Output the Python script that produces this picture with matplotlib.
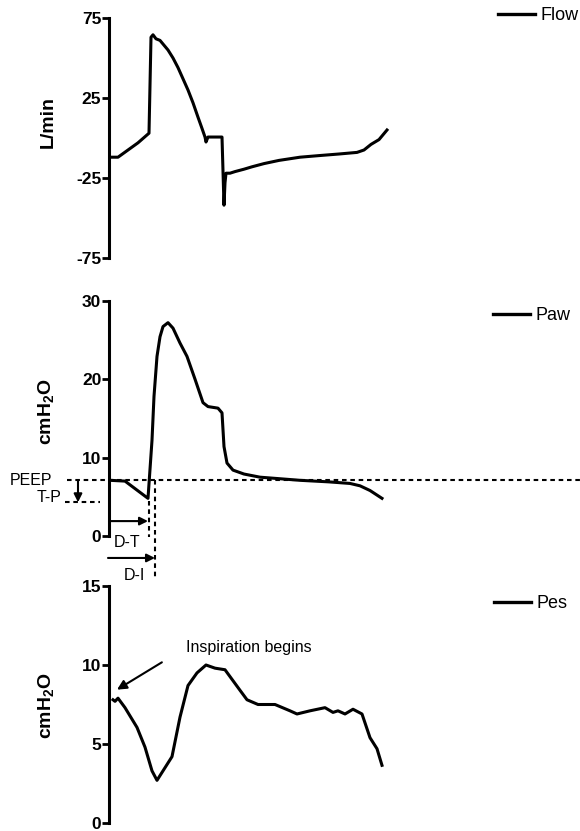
import matplotlib
matplotlib.use("Agg")
import matplotlib.pyplot as plt
from matplotlib.lines import Line2D

plt.rcParams['font.family'] = ['Liberation Sans', 'DejaVu Sans']
plt.rcParams['mathtext.fontset'] = 'custom'
plt.rcParams['mathtext.rm'] = 'Liberation Sans'
plt.rcParams['mathtext.bf'] = 'Liberation Sans:bold'

# ---------------- data (time in s, arbitrary origin) ----------------
flow_t = [0.01, 0.09, 0.19, 0.29, 0.40, 0.42, 0.44, 0.47, 0.51, 0.55, 0.59, 0.64, 0.69,
          0.74, 0.79, 0.84, 0.89, 0.93, 0.96, 0.97, 0.99, 1.05, 1.13, 1.15, 1.16, 1.17,
          1.21, 1.26, 1.35, 1.43, 1.55, 1.70, 1.91, 2.10, 2.30, 2.48, 2.55, 2.62, 2.70, 2.78]
flow_v = [-12, -12, -7.5, -3, 3, 63, 64.5, 62, 61, 58, 55, 50, 44,
          37, 30, 22, 13, 6, 0.6, -2.5, 0.6, 0.6, 0.6, -42, -28, -22,
          -22, -21, -19.5, -18, -16, -14, -12, -11, -10, -9, -7.5, -4, -1, 5]

paw_t = [0.01, 0.16, 0.39, 0.43, 0.45, 0.48, 0.51, 0.54, 0.59, 0.64, 0.71, 0.78, 0.86,
         0.94, 0.99, 1.09, 1.13, 1.15, 1.18, 1.24, 1.35, 1.51, 1.91, 2.20, 2.41, 2.51,
         2.61, 2.73]
paw_v = [7.1, 7.0, 4.8, 12.2, 17.8, 22.9, 25.4, 26.7, 27.2, 26.5, 24.6, 22.9, 20.0,
         17.0, 16.5, 16.3, 15.7, 11.4, 9.3, 8.4, 7.9, 7.5, 7.1, 6.9, 6.7, 6.4,
         5.8, 4.8]

pes_t = [0.04, 0.06, 0.09, 0.16, 0.28, 0.36, 0.43, 0.48, 0.56, 0.63, 0.71, 0.79, 0.88,
         0.97, 1.06, 1.16, 1.31, 1.38, 1.49, 1.66, 1.81, 1.88, 2.01, 2.16, 2.24, 2.29,
         2.36, 2.44, 2.53, 2.61, 2.68, 2.73]
pes_v = [7.8, 7.7, 7.9, 7.3, 6.05, 4.8, 3.3, 2.7, 3.5, 4.2, 6.7, 8.7, 9.5,
         10.0, 9.8, 9.7, 8.4, 7.8, 7.5, 7.5, 7.1, 6.9, 7.1, 7.3, 7.0, 7.1,
         6.9, 7.2, 6.9, 5.4, 4.7, 3.65]

flow_ticks = [-75, -25, 25, 75]
paw_ticks = [0, 10, 20, 30]
pes_ticks = [0, 5, 10, 15]

peep_level = 7.1
tp_level = 4.3
trigger_t = 0.40
inspiration_t = 0.46

W, H = 580, 831
fig = plt.figure(figsize=(W / 100, H / 100), dpi=100)

left = 109 / W
width = 1 - left
xlim = (0, 4.71)


def make_ax(top_px, bottom_px):
    return fig.add_axes([left, 1 - bottom_px / H, width, (bottom_px - top_px) / H])


def style(ax, ylim, ticks, ylabel, label_y):
    ax.set_xlim(*xlim)
    ax.set_ylim(*ylim)
    ax.set_yticks(ticks)
    ax.set_yticklabels([str(t) for t in ticks], fontsize=12.5, fontweight='bold')
    for s in ['top', 'right', 'bottom']:
        ax.spines[s].set_visible(False)
    ax.spines['left'].set_linewidth(2.2)
    ax.xaxis.set_visible(False)
    ax.tick_params(axis='y', length=5, width=2.0, pad=0.5)
    ax.patch.set_alpha(0)
    ax.set_ylabel(ylabel, fontsize=14, fontweight='bold')
    ax.yaxis.set_label_coords(-0.11, label_y)


def add_legend(ax, label, x_px, y_px):
    h = Line2D([], [], color='black', lw=2.4)
    ax.legend([h], [label], loc='center left',
              bbox_to_anchor=(x_px / W, 1 - y_px / H), bbox_transform=fig.transFigure,
              frameon=False, fontsize=13, handlelength=2.05, handletextpad=0.3,
              borderpad=0, borderaxespad=0)


lw = 2.2

# ---------------- Flow ----------------
ax1 = make_ax(18, 258)
ax1.plot(flow_t, flow_v, color='black', lw=lw)
style(ax1, (-75, 75), flow_ticks, 'L/min', 0.567)
add_legend(ax1, 'Flow', 498, 16)

# ---------------- Paw ----------------
ax2 = make_ax(300.7, 536)
ax2.plot(paw_t, paw_v, color='black', lw=lw)
style(ax2, (0, 30), paw_ticks, r'cmH$_\mathbf{2}$O', 0.527)
add_legend(ax2, 'Paw', 493, 316)

dash = dict(color='black', lw=1.5, ls=(0, (2.2, 1.8)), clip_on=False)
ax2.plot([-0.42, 4.71], [peep_level, peep_level], **dash)
ax2.plot([-0.44, -0.09], [tp_level, tp_level], **dash)
ax2.plot([trigger_t, trigger_t], [tp_level + 0.1, -0.1], **dash)
ax2.plot([inspiration_t, inspiration_t], [peep_level, -5.6], **dash)

ax2.text(-0.57, peep_level, 'PEEP', ha='right', va='center', fontsize=11.5)
ax2.text(-0.47, tp_level + 0.55, 'T-P', ha='right', va='center', fontsize=11.5)
ax2.text(0.185, -0.77, 'D-T', ha='center', va='center', fontsize=11.5)
ax2.text(0.25, -5.0, 'D-I', ha='center', va='center', fontsize=11.5)

arr = dict(arrowstyle='-|>', color='black', lw=1.5, mutation_scale=12,
           shrinkA=0, shrinkB=0)
ax2.annotate('', xy=(-0.31, tp_level), xytext=(-0.31, peep_level),
             arrowprops=arr, annotation_clip=False)
ax2.annotate('', xy=(trigger_t - 0.01, 1.9), xytext=(0.0, 1.9),
             arrowprops=arr, annotation_clip=False)
ax2.annotate('', xy=(inspiration_t, -2.8), xytext=(-0.01, -2.8),
             arrowprops=arr, annotation_clip=False)

# ---------------- Pes ----------------
ax3 = make_ax(586, 823)
ax3.plot(pes_t, pes_v, color='black', lw=lw)
style(ax3, (0, 15), pes_ticks, r'cmH$_\mathbf{2}$O', 0.496)
add_legend(ax3, 'Pes', 494, 604)

ax3.annotate('Inspiration begins', xy=(0.08, 8.44), xytext=(0.77, 11.1),
             ha='left', va='center', fontsize=11.5,
             arrowprops=dict(arrowstyle='-|>', color='black', lw=1.5,
                             mutation_scale=14, shrinkA=18, shrinkB=0,
                             relpos=(0, 0.5)),
             annotation_clip=False)

fig.savefig('out.png', dpi=100)
